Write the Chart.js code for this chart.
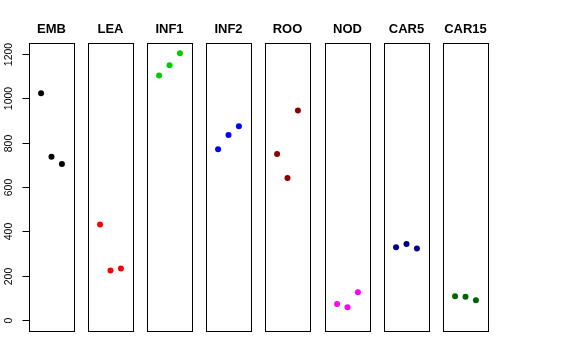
<!DOCTYPE html>
<html>
<head>
<meta charset="utf-8">
<script src="https://cdn.jsdelivr.net/npm/chart.js@4"></script>
<style>
  body { margin: 0; background: #fff; }
  #wrap { position: relative; width: 576px; height: 360px; overflow: hidden; }
  #wrap canvas { position: absolute; top: 0; }
</style>
</head>
<body>
<div id="wrap"></div>
<script>
// tissue groups, one panel each
const groups = ["EMB", "LEA", "INF1", "INF2", "ROO", "NOD", "CAR5", "CAR15"];
// three replicate values per group
const rep1 = [1022, 431, 1102, 770, 749, 73, 329, 108];
const rep2 = [736, 224, 1148, 834, 640, 59, 343, 106];
const rep3 = [703, 233, 1202, 873, 944, 126, 323, 90];
const repIndex = [1, 2, 3];
const colors = ["#000000", "#ff0000", "#00cd00", "#0000ff", "#8b0000", "#ff00ff", "#00008b", "#006400"];
const yTicks = [0, 200, 400, 600, 800, 1000, 1200];

const firstLeft = 29;   // left edge of first panel
const step = 59.1;      // distance between panels
const panelW = 45;
const padX = 15;
const padTop = 43, padBottom = 29;

// box, title and (first panel only) the y axis
const panelDeco = {
  id: "panelDeco",
  afterDraw(chart) {
    const ctx = chart.ctx;
    const a = chart.chartArea;
    const opts = chart.options.plugins.panelDeco;
    ctx.save();
    ctx.strokeStyle = "#000";
    ctx.lineWidth = 1;
    ctx.strokeRect(Math.round(a.left) + 0.5, Math.round(a.top) + 0.5,
      Math.round(a.right - a.left), Math.round(a.bottom - a.top));
    ctx.fillStyle = "#000";
    ctx.font = "bold 13px 'Liberation Sans', Arial, sans-serif";
    ctx.textAlign = "center";
    ctx.textBaseline = "alphabetic";
    ctx.fillText(opts.title, (a.left + a.right) / 2, 33);
    if (opts.axis) {
      const y = chart.scales.y;
      const x0 = Math.round(a.left) + 0.5;
      ctx.beginPath();
      ctx.moveTo(x0, y.getPixelForValue(yTicks[0]));
      ctx.lineTo(x0, y.getPixelForValue(yTicks[yTicks.length - 1]));
      ctx.font = "10.5px 'Liberation Sans', Arial, sans-serif";
      yTicks.forEach(v => {
        const py = Math.round(y.getPixelForValue(v)) + 0.5;
        ctx.moveTo(x0 - 7, py);
        ctx.lineTo(x0, py);
        ctx.save();
        ctx.translate(11.5, py);
        ctx.rotate(-Math.PI / 2);
        ctx.textAlign = "center";
        ctx.fillText(String(v), 0, 0);
        ctx.restore();
      });
      ctx.stroke();
    }
    ctx.restore();
  }
};

const wrap = document.getElementById("wrap");
groups.forEach((g, i) => {
  const left = firstLeft + i * step;
  const padL = i === 0 ? left : padX;
  const canvas = document.createElement("canvas");
  const w = padL + panelW + padX;
  canvas.width = w;
  canvas.height = 360;
  canvas.style.left = (left - padL) + "px";
  canvas.style.width = w + "px";
  canvas.style.height = "360px";
  wrap.appendChild(canvas);

  const vals = [rep1[i], rep2[i], rep3[i]];
  new Chart(canvas, {
    type: "scatter",
    data: {
      datasets: [{
        data: repIndex.map((r, k) => ({ x: r, y: vals[k] })),
        backgroundColor: colors[i],
        borderColor: colors[i],
        pointRadius: 3,
        pointBorderWidth: 0
      }]
    },
    options: {
      responsive: false,
      animation: false,
      layout: { padding: { left: padL, right: padX, top: padTop, bottom: padBottom } },
      scales: {
        x: { type: "linear", min: -0.16, max: 4.16, display: false },
        y: { type: "linear", min: -48, max: 1248, display: false }
      },
      plugins: {
        legend: { display: false },
        tooltip: { enabled: false },
        panelDeco: { title: g, axis: i === 0 }
      }
    },
    plugins: [panelDeco]
  });
});
</script>
</body>
</html>
